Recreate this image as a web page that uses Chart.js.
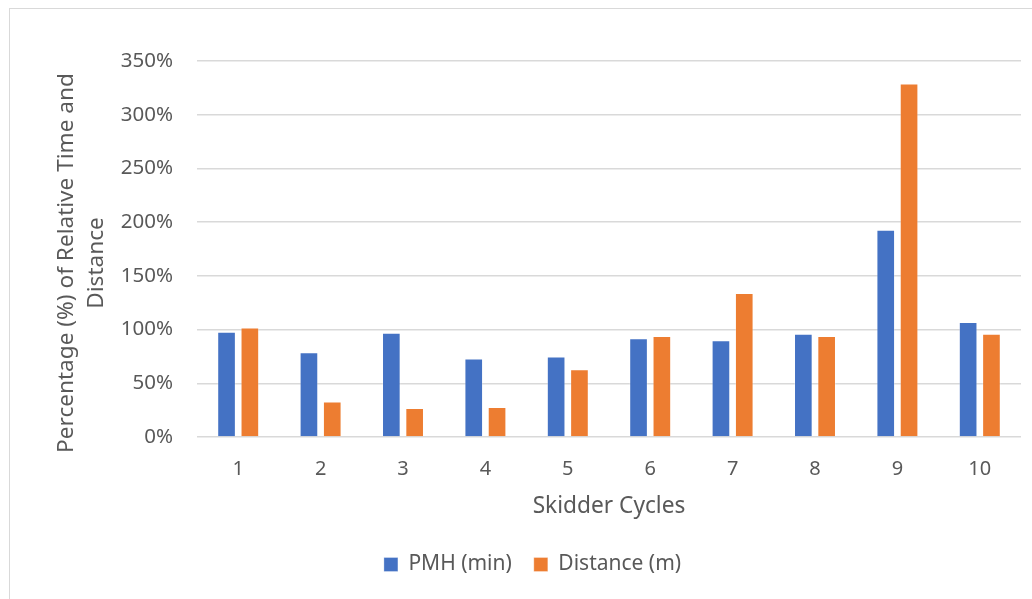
<!DOCTYPE html>
<html>
<head>
<meta charset="utf-8">
<script src="https://cdn.jsdelivr.net/npm/chart.js@4/dist/chart.umd.min.js"></script>
<style>
  html, body { margin: 0; padding: 0; background: #ffffff; }
  #wrap { position: absolute; left: 0; top: 0; width: 1032px; height: 599px; }
</style>
</head>
<body>
<div id="wrap"><canvas id="c" width="1032" height="599"></canvas></div>
<script>
// Skidder cycle numbers
const cycles = ['1', '2', '3', '4', '5', '6', '7', '8', '9', '10'];
// Relative productive machine hours, percent
const pmhMin = [98, 79, 97, 73, 75, 92, 90, 96, 193, 107];
// Relative skidding distance, percent
const distanceM = [102, 33, 27, 28, 63, 94, 134, 94, 329, 96];
// Value axis tick settings
const yTickStep = 50;
const yMax = 350;
// Value axis title, one entry per line
const yTitleLines = ['Percentage (%) of Relative Time and', 'Distance'];

const textColor = '#595959';
const fontFamily = "'Noto Sans', 'Open Sans', sans-serif";

// Thin frame around the whole chart
const framePlugin = {
  id: 'frame',
  beforeDraw(chart) {
    const ctx = chart.ctx;
    ctx.save();
    ctx.fillStyle = '#ffffff';
    ctx.fillRect(0, 0, chart.width, chart.height);
    ctx.strokeStyle = '#d9d9d9';
    ctx.lineWidth = 1;
    ctx.strokeRect(9.5, 8.5, chart.width, chart.height);
    ctx.restore();
  }
};

// Rotated two-line title for the value axis, centred a little below the plot middle
const yTitlePlugin = {
  id: 'yTitle',
  afterDraw(chart) {
    const ctx = chart.ctx;
    const area = chart.chartArea;
    const cy = (area.top + area.bottom) / 2 + 14;
    ctx.save();
    ctx.fillStyle = textColor;
    ctx.font = "22.6px " + fontFamily;
    ctx.textAlign = 'center';
    ctx.textBaseline = 'middle';
    const xs = [67, 97];
    yTitleLines.forEach((line, i) => {
      ctx.save();
      ctx.translate(xs[i], cy);
      ctx.rotate(-Math.PI / 2);
      ctx.fillText(line, 0, 0);
      ctx.restore();
    });
    ctx.restore();
  }
};

new Chart(document.getElementById('c'), {
  type: 'bar',
  data: {
    labels: cycles,
    datasets: [
      {
        label: 'PMH (min)',
        data: pmhMin,
        backgroundColor: '#4472C4',
        borderColor: 'rgba(255,255,255,0.3)',
        borderWidth: 1,
        barPercentage: 0.8,
        categoryPercentage: 0.566
      },
      {
        label: 'Distance (m)',
        data: distanceM,
        backgroundColor: '#ED7D31',
        borderColor: 'rgba(255,255,255,0.3)',
        borderWidth: 1,
        barPercentage: 0.8,
        categoryPercentage: 0.566
      }
    ]
  },
  options: {
    responsive: false,
    animation: false,
    devicePixelRatio: 1,
    layout: { padding: { left: 44, right: 11, top: 61, bottom: 14 } },
    plugins: {
      legend: {
        position: 'bottom',
        labels: {
          color: textColor,
          font: { family: fontFamily, size: 21 },
          boxWidth: 14,
          boxHeight: 14,
          padding: 22
        }
      },
      tooltip: { enabled: false }
    },
    scales: {
      x: {
        grid: { display: false },
        border: { display: false },
        ticks: {
          color: textColor,
          font: { family: fontFamily, size: 20 },
          padding: 12
        },
        title: {
          display: true,
          text: 'Skidder Cycles',
          color: textColor,
          font: { family: fontFamily, size: 22.7 },
          padding: { top: 0, bottom: 12 }
        },
        afterFit(scale) { scale.height = 95; }
      },
      y: {
        min: 0,
        max: yMax,
        grid: { color: '#d9d9d9', lineWidth: 1.4, drawTicks: false },
        border: { display: false },
        ticks: {
          stepSize: yTickStep,
          color: textColor,
          font: { family: fontFamily, size: 20.5 },
          padding: 24,
          callback: v => v + '%'
        },
        title: { display: false },
        afterFit(scale) { scale.width = 153; }
      }
    }
  },
  plugins: [framePlugin, yTitlePlugin]
});
</script>
</body>
</html>
